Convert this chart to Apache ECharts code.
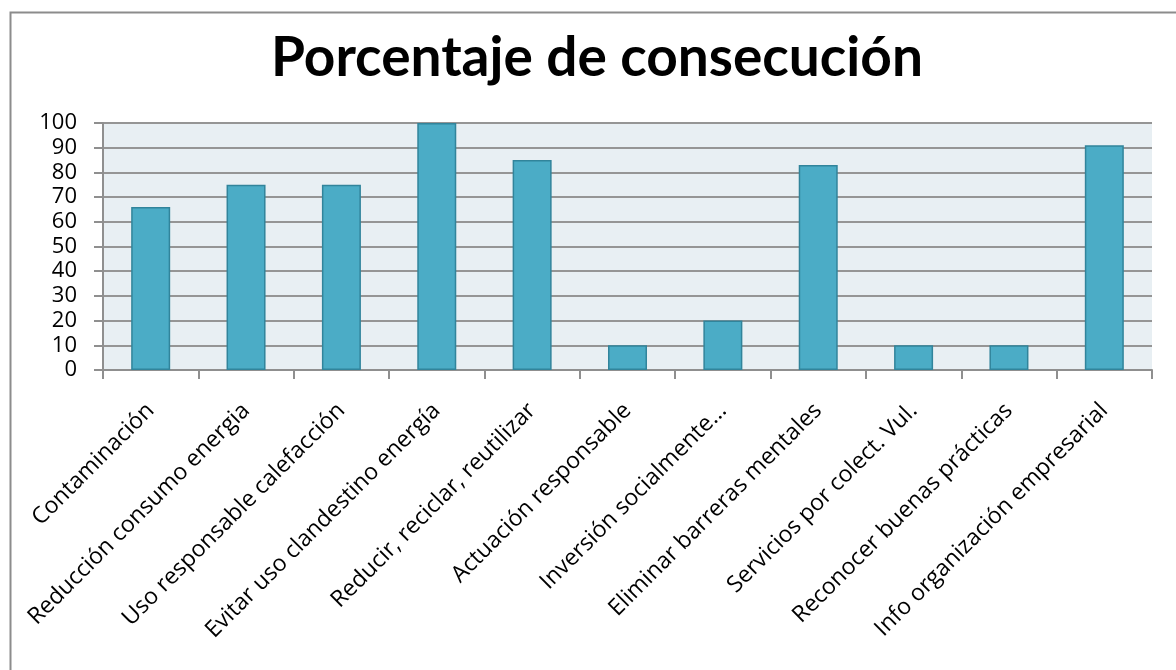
<!DOCTYPE html>
<html>
<head>
<meta charset="utf-8">
<script src="https://cdn.jsdelivr.net/npm/echarts@6/dist/echarts.min.js"></script>
<style>
html,body{margin:0;padding:0;background:#fff;}
#chart{width:1176px;height:670px;}
</style>
</head>
<body>
<div id="chart"></div>
<script>
const titleText = 'Porcentaje de consecución';
const categories = [
  'Contaminación',
  'Reducción consumo energia',
  'Uso responsable calefacción',
  'Evitar uso clandestino energía',
  'Reducir, reciclar, reutilizar',
  'Actuación responsable',
  'Inversión socialmente...',
  'Eliminar barreras mentales',
  'Servicios por colect. Vul.',
  'Reconocer buenas prácticas',
  'Info organización empresarial'
];
const values = [66, 75, 75, 100, 85, 10, 20, 83, 10, 10, 91];
const yMin = 0, yMax = 100, yInterval = 10;

const chart = echarts.init(document.getElementById('chart'), null, {renderer: 'canvas'});
chart.setOption({
  animation: false,
  backgroundColor: '#ffffff',
  title: {
    text: titleText,
    left: 592,
    top: 26,
    textAlign: 'center',
    textStyle: {fontFamily: 'Lato', fontWeight: 'bold', fontSize: 55, color: '#000'}
  },
  graphic: [{
    type: 'rect',
    left: 8, top: 10,
    shape: {x: 0, y: 0, width: 1250, height: 750},
    style: {fill: 'none', stroke: '#8c8c8c', lineWidth: 2},
    silent: true, z: -1
  }],
  grid: {
    left: 103, right: 24, top: 123, bottom: 300,
    show: true, backgroundColor: '#E8EFF3', borderWidth: 0
  },
  xAxis: {
    type: 'category',
    data: categories,
    boundaryGap: true,
    axisLine: {show: true, lineStyle: {color: '#8f8f8f', width: 2}},
    axisTick: {show: true, length: 9, alignWithLabel: false, lineStyle: {color: '#8f8f8f', width: 2}},
    axisLabel: {
      rotate: 45, interval: 0, margin: 37, hideOverlap: false,
      fontFamily: 'Open Sans', fontSize: 23, color: '#000'
    },
    splitLine: {show: false}
  },
  yAxis: {
    type: 'value',
    min: yMin, max: yMax, interval: yInterval,
    axisLine: {show: true, lineStyle: {color: '#8f8f8f', width: 2}},
    axisTick: {show: true, length: 9, lineStyle: {color: '#8f8f8f', width: 2}},
    axisLabel: {margin: 26, fontFamily: 'Open Sans', fontSize: 22, color: '#000'},
    splitLine: {show: true, lineStyle: {color: '#959595', width: 2}}
  },
  series: [{
    type: 'bar',
    data: values,
    barWidth: 39,
    itemStyle: {color: '#4BACC6', borderColor: '#31849B', borderWidth: 1.5}
  }]
});
</script>
</body>
</html>
